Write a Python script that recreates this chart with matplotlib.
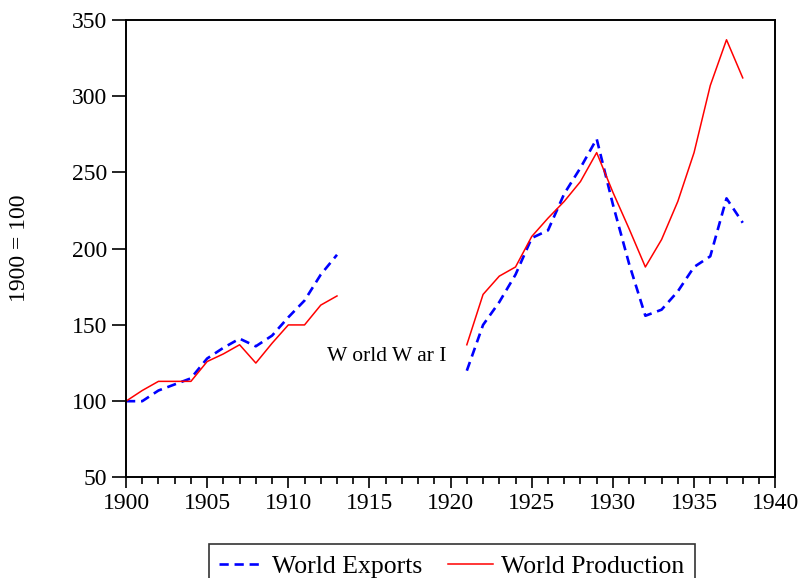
import numpy as np
import matplotlib
matplotlib.use("Agg")
import matplotlib.pyplot as plt
from matplotlib.ticker import MultipleLocator

plt.rcParams['font.family'] = ['Liberation Serif', 'DejaVu Serif']

# World exports and production indices, 1900 = 100 (gap for World War I)
years_pre = [1900, 1901, 1902, 1903, 1904, 1905, 1906, 1907, 1908, 1909, 1910, 1911, 1912, 1913]
exports_pre = [100, 100, 107, 111, 115, 128, 135, 141, 136, 143, 155, 166, 183, 196]
production_pre = [100, 107, 113, 113, 113, 126, 131, 137, 125, 138, 150, 150, 163, 169]

years_post = [1921, 1922, 1923, 1924, 1925, 1926, 1927, 1928, 1929, 1930,
              1931, 1932, 1933, 1934, 1935, 1936, 1937, 1938]
exports_post = [120, 150, 165, 183, 207, 212, 236, 253, 272, 229,
                190, 156, 160, 172, 188, 195, 233, 217]
production_post = [137, 170, 182, 188, 208, 220, 231, 244, 263, 237,
                   213, 188, 206, 231, 263, 307, 337, 312]

fig = plt.figure(figsize=(8, 5.78), dpi=100)
ax = fig.add_axes([0.1575, 0.174, 0.8115, 0.7915])

dash = (0, (3.5, 2.2))
ax.plot(years_pre, exports_pre, color='#0000ff', linestyle=dash, lw=1.9)
ax.plot(years_post, exports_post, color='#0000ff', linestyle=dash, lw=1.9,
        label='World Exports')
ax.plot(years_pre, production_pre, color='#ff0000', lw=1.1)
ax.plot(years_post, production_post, color='#ff0000', lw=1.1, label='World Production')

ax.set_xlim(1900, 1940)
ax.set_ylim(50, 350)
ax.xaxis.set_major_locator(MultipleLocator(5))
ax.xaxis.set_minor_locator(MultipleLocator(1))
ax.yaxis.set_major_locator(MultipleLocator(50))
ax.tick_params(axis='both', which='major', direction='out', labelsize=17,
               width=1.2, color='black')
ax.tick_params(axis='x', which='major', length=8)
ax.tick_params(axis='y', which='major', length=10)
ax.tick_params(axis='x', which='minor', direction='out', length=5, width=1.2)
ax.tick_params(top=False, right=False)
for s in ax.spines.values():
    s.set_linewidth(1.4)

ax.set_ylabel('1900 = 100', fontsize=17)
ax.yaxis.set_label_coords(-0.148, 0.5)

ax.text(1912.4, 129, 'W orld W ar I', fontsize=15.5, ha='left', va='center')

leg = fig.legend(loc='upper center', bbox_to_anchor=(0.565, 0.081), ncol=2,
                 fontsize=18.5, frameon=True, fancybox=False, edgecolor='black',
                 handlelength=1.75, columnspacing=1.0, borderpad=0.42,
                 handletextpad=0.31)
leg.get_frame().set_linewidth(1.2)

fig.savefig('out.png', dpi=100)
